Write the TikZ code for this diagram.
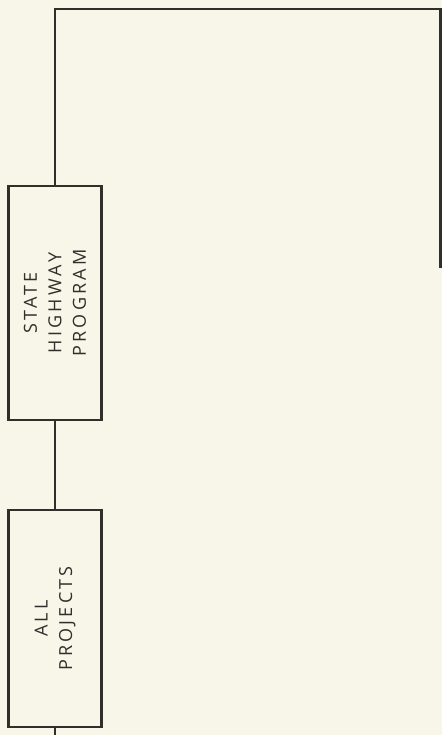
\documentclass[tikz,border=0pt]{standalone}
\usepackage{fontspec}
\setsansfont[LetterSpace=18]{Open Sans}
\usetikzlibrary{positioning}
\definecolor{paper}{HTML}{F7F6E9}
\definecolor{ink}{HTML}{2F2F2C}
\tikzstyle{link} = [ink, line width=2.8pt]

\begin{document}
\begin{tikzpicture}[x=1pt, y=-1pt]

\tikzset{program box/.style = {rectangle, draw = ink, line width = 2.6pt, fill = paper,
            minimum height = 93pt, text = ink, align = center, rotate = 90,
            font = \sffamily\fontsize{18}{24.5}\selectfont}}

\fill[paper] (0,0) rectangle (442,735);
\useasboundingbox (0,0) rectangle (442,735);

\node[program box, minimum width = 234pt] (state) at (55,303) {STATE\\ HIGHWAY\\ PROGRAM};
\node[program box, minimum width = 217pt] (projects) at (55,618.5) {ALL\\ PROJECTS};

\coordinate (corner) at (440.5,9);
\coordinate (rightend) at (440.5,268);
\coordinate (bottomend) at (55,736);

\draw[link] (state.east) |- (corner) -- (rightend);
\draw[link] (state.west) -- (projects.east);
\draw[link] (projects.west) -- (bottomend);

\end{tikzpicture}
\end{document}
